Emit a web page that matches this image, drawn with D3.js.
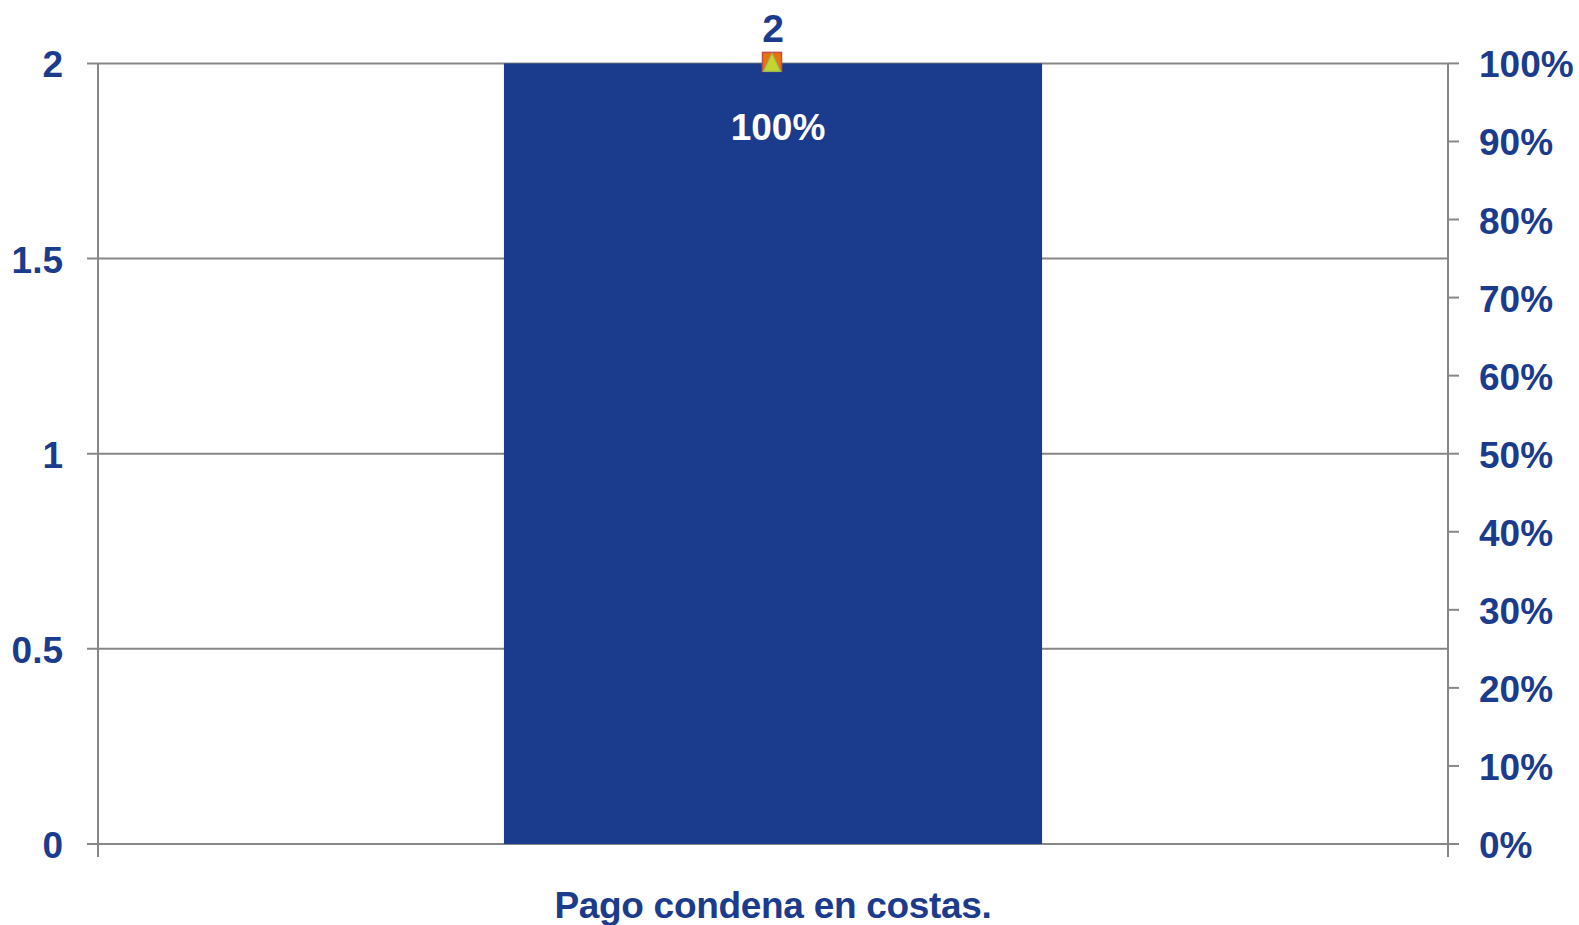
<!DOCTYPE html>
<html><head><meta charset="utf-8">
<script src="https://cdn.jsdelivr.net/npm/d3@7"></script>
<style>
html,body{margin:0;padding:0;background:#fff;}
svg{display:block;}
text{font-family:"Liberation Sans",Arial,sans-serif;font-weight:bold;}
</style></head>
<body>
<svg id="chart" width="1579" height="925"></svg>
<script>
const categories = ["Pago condena en costas."];
const counts = [2];
const cumulativePct = [1.0];
const leftTicks = [0, 0.5, 1, 1.5, 2];
const rightTicks = [0, 0.1, 0.2, 0.3, 0.4, 0.5, 0.6, 0.7, 0.8, 0.9, 1.0];

const W = 1579, H = 925;
const m = {left: 98, right: 1448, top: 63.4, bottom: 844};
const blue = "#1B3C8C";
const grid = "#878787";
const gw = 2;

const svg = d3.select("#chart");

const x = d3.scaleBand().domain(categories).range([m.left, m.right]).paddingInner(0.43).paddingOuter(0.43);
const yL = d3.scaleLinear().domain([0, 2]).range([m.bottom, m.top]);
const yR = d3.scaleLinear().domain([0, 1]).range([m.bottom, m.top]);

// gridlines (left ticks extend into them)
svg.append("g").selectAll("line").data(leftTicks).join("line")
  .attr("x1", m.left - 11).attr("x2", m.right)
  .attr("y1", d => yL(d)).attr("y2", d => yL(d))
  .attr("stroke", grid).attr("stroke-width", gw);

// bars
svg.append("g").selectAll("rect").data(categories).join("rect")
  .attr("x", d => x(d)).attr("width", x.bandwidth())
  .attr("y", (d, i) => yL(counts[i])).attr("height", (d, i) => yL(0) - yL(counts[i]))
  .attr("fill", blue);

// left axis line
svg.append("line").attr("x1", m.left).attr("x2", m.left)
  .attr("y1", m.top).attr("y2", m.bottom + 13)
  .attr("stroke", grid).attr("stroke-width", gw);

// right axis line
svg.append("line").attr("x1", m.right).attr("x2", m.right)
  .attr("y1", m.top).attr("y2", m.bottom + 13)
  .attr("stroke", grid).attr("stroke-width", gw);

// right ticks
svg.append("g").selectAll("line").data(rightTicks).join("line")
  .attr("x1", m.right).attr("x2", m.right + 11)
  .attr("y1", d => yR(d)).attr("y2", d => yR(d))
  .attr("stroke", grid).attr("stroke-width", gw);

// left tick labels
svg.append("g").selectAll("text").data(leftTicks).join("text")
  .attr("x", 63).attr("y", d => yL(d) + 14)
  .attr("text-anchor", "end").attr("font-size", 37).attr("fill", blue)
  .text(d => d3.format("~g")(d));

// right tick labels
svg.append("g").selectAll("text").data(rightTicks).join("text")
  .attr("x", m.right + 31).attr("y", d => yR(d) + 14)
  .attr("text-anchor", "start").attr("font-size", 37).attr("fill", blue)
  .text(d => d3.format(".0%")(d));

// category label
svg.append("g").selectAll("text").data(categories).join("text")
  .attr("x", d => x(d) + x.bandwidth() / 2).attr("y", 918)
  .attr("text-anchor", "middle").attr("font-size", 37).attr("fill", blue)
  .attr("letter-spacing", -0.3)
  .text(d => d);

// bar value labels
svg.append("g").selectAll("text").data(categories).join("text")
  .attr("x", d => x(d) + x.bandwidth() / 2).attr("y", (d, i) => yL(counts[i]) - 21)
  .attr("text-anchor", "middle").attr("font-size", 39).attr("fill", blue)
  .text((d, i) => counts[i]);

// cumulative percent labels (white, inside bar)
svg.append("g").selectAll("text").data(categories).join("text")
  .attr("x", d => x(d) + x.bandwidth() / 2 + 5).attr("y", (d, i) => yR(cumulativePct[i]) + 77)
  .attr("text-anchor", "middle").attr("font-size", 37).attr("fill", "#ffffff")
  .text((d, i) => d3.format(".0%")(cumulativePct[i]));

// markers: square with triangle
const mk = svg.append("g").selectAll("g").data(categories).join("g")
  .attr("transform", (d, i) => `translate(${x(d) + x.bandwidth() / 2 - 1},${yR(cumulativePct[i])})`);
mk.append("rect").attr("x", -9.5).attr("y", -11).attr("width", 19).attr("height", 19)
  .attr("fill", "#E8730C").attr("stroke", "#C0504D").attr("stroke-width", 1.5);
mk.append("path").attr("d", "M0,-10 L8.5,8 L-8.5,8 Z")
  .attr("fill", "#C3D630").attr("stroke", "#9BBB59").attr("stroke-width", 1.2);
</script>
</body></html>
